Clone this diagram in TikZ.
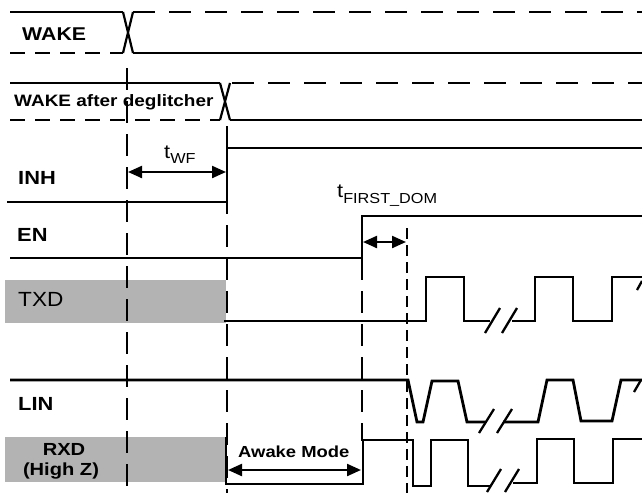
\documentclass[tikz,border=0pt]{standalone}
\usepackage{fontspec}
\setmainfont{Liberation Sans}
\usetikzlibrary{arrows.meta}
\definecolor{boxgray}{RGB}{179,179,179}
\begin{document}
\begin{tikzpicture}[x=1pt,y=-1pt,
  sig/.style={line width=2.8pt, line join=miter, line cap=butt},
  ldash/.style={sig, dash pattern=on 15pt off 10pt},
  rdash/.style={sig, dash pattern=on 22pt off 14pt},
  vdash/.style={line width=2.1pt, dash pattern=on 22pt off 11pt},
  vdot/.style={line width=1.7pt, dash pattern=on 11pt off 6pt},
  brk/.style={line width=2.3pt},
  dim/.style={line width=2.2pt, {Triangle[length=14pt,width=12pt]}-{Triangle[length=14pt,width=12pt]}},
  lbl/.style={inner sep=0pt, anchor=base west, xscale=1.15, font=\bfseries\fontsize{19}{19}\selectfont},
  tlbl/.style={inner sep=0pt, anchor=base west, xscale=1.12, font=\fontsize{19.5}{19.5}\selectfont},
  graybox/.style={fill=boxgray, draw=none}]
\useasboundingbox (0,0) rectangle (642,493);

% gray boxes
\fill[graybox] (5,280) rectangle (226,323);
\fill[graybox] (5,437) rectangle (226,482);

% vertical reference lines
\coordinate (v1t) at (127,68);  \coordinate (v1b) at (127,493);
\coordinate (v2t) at (227,126); \coordinate (v2b) at (227,493);
\coordinate (v3t) at (362,258); \coordinate (v3b) at (362,441);
\coordinate (v4t) at (407,228); \coordinate (v4b) at (407,493);
\draw[vdash] (v1t) -- (v1b);
\draw[vdash] (v2t) -- (v2b);
\draw[vdash] (v3t) -- (v3b);
\draw[vdot] (v4t) -- (v4b);

% WAKE
\draw[sig] (10,12) -- (123,12);
\draw[ldash] (10,53) -- (123,53);
\draw[line width=2.2pt] (123,12) -- (133,53) (123,53) -- (133,12);
\draw[rdash] (133,12) -- (642,12);
\draw[sig] (133,53) -- (642,53);
\node[lbl, font=\bfseries\fontsize{18.5}{18.5}\selectfont] (wake) at (22,40) {WAKE};

% WAKE after deglitcher
\draw[sig] (10,83) -- (220,83);
\draw[ldash] (10,120) -- (220,120);
\draw[line width=2.2pt] (220,83) -- (230,120) (220,120) -- (230,83);
\draw[rdash] (232,83) -- (642,83);
\draw[sig] (230,120) -- (642,120);
\node[lbl, font=\bfseries\fontsize{16.5}{16.5}\selectfont] (wakedg) at (14,106) {WAKE after deglitcher};

% INH
\draw[sig] (7,202) -- (227,202) -- (227,148) -- (642,148);
\node[lbl] (inh) at (18,184) {INH};
\coordinate (wfA) at (128,172); \coordinate (wfB) at (226,172);
\draw[dim] (wfA) -- (wfB);
\node[tlbl] (twf) at (164,158) {t\raisebox{-5pt}{\fontsize{14.5}{14.5}\selectfont WF}};

% EN
\draw[sig] (10,258) -- (362,258) -- (362,216) -- (642,216);
\node[lbl] (en) at (17,241) {EN};
\coordinate (fdA) at (363,242); \coordinate (fdB) at (406,242);
\draw[dim] (fdA) -- (fdB);
\node[tlbl] (tfd) at (337,197) {t\raisebox{-6pt}{\fontsize{14.5}{14.5}\selectfont FIRST\_DOM}};

% TXD
\node[lbl, font=\fontsize{20.5}{20.5}\selectfont, xscale=0.96] (txd) at (18,306) {TXD};
\draw[sig] (224,321) -- (426,321) -- (426,277) -- (464,277) -- (464,321) -- (490,321);
\draw[brk] (485,333) -- (500,308) (502,333) -- (517,308);
\draw[sig] (512,321) -- (535,321) -- (535,277) -- (573,277) -- (573,321) -- (612,321) -- (612,277) -- (642,277);
\draw[brk] (637,290) -- (642,281);

% LIN
\draw[sig] (10,380) -- (408,380) -- (417,422) -- (423,422) -- (432,381) -- (458,381) -- (467,422) -- (485,422);
\draw[brk] (479,433) -- (494,409) (497,433) -- (512,409);
\draw[sig] (503,422) -- (538,422) -- (547,380) -- (573,380) -- (581,421) -- (612,421) -- (621,380) -- (642,380);
\draw[brk] (634,392) -- (641,380);
\node[lbl] (lin) at (18,410) {LIN};

% RXD
\node[lbl, anchor=base, font=\bfseries\fontsize{17.5}{17.5}\selectfont] (rxd) at (64,455) {RXD};
\node[lbl, anchor=base, font=\bfseries\fontsize{17.5}{17.5}\selectfont] (highz) at (61,475) {(High Z)};
\draw[sig] (226,437) -- (226,484) -- (363,484) -- (363,440) -- (413,440) -- (413,486) -- (431,486) -- (431,440) -- (468,440) -- (468,486) -- (490,486);
\draw[brk] (487,492) -- (501,469) (505,492) -- (519,469);
\draw[sig] (513,483) -- (537,483) -- (537,439) -- (574,439) -- (574,483) -- (613,483) -- (613,439) -- (642,439);
\coordinate (amA) at (228,470); \coordinate (amB) at (361,470);
\draw[dim] (amA) -- (amB);
\node[lbl, font=\bfseries\fontsize{16}{16}\selectfont] (awake) at (238,457) {Awake Mode};

\end{tikzpicture}
\end{document}
